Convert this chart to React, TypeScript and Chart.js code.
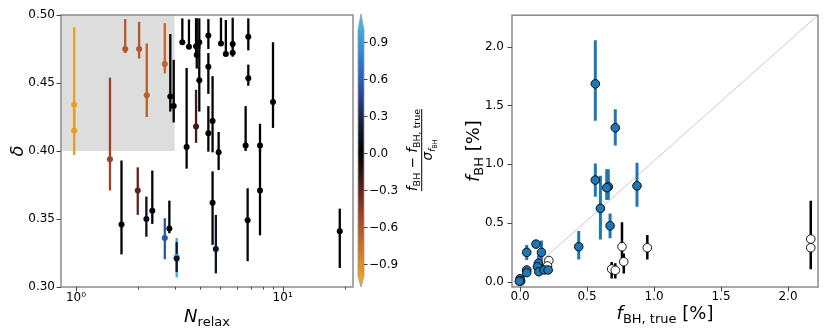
import React, { useEffect, useRef } from "react";
import { Chart, registerables } from "chart.js";
Chart.register(...registerables);

// ---------------- Left panel data ----------------
const relaxN = [0.98, 0.98, 1.46, 1.73, 2.02, 2.2, 2.69, 2.86, 2.97, 3.27, 3.52, 3.43, 3.81, 3.84, 3.81, 3.95, 3.95, 4.37, 4.37, 4.37, 4.58, 4.58, 4.75, 4.9, 5.03, 5.31, 5.73, 5.73, 6.62, 6.77, 6.82, 6.82, 7.77, 7.77, 8.98, 18.9, 1.66, 1.99, 2.19, 2.34, 2.69, 2.83, 3.07, 3.07];
const relaxDelta = [0.434, 0.415, 0.394, 0.475, 0.475, 0.441, 0.464, 0.44, 0.433, 0.48, 0.4767, 0.403, 0.477, 0.4706, 0.418, 0.48, 0.452, 0.485, 0.462, 0.413, 0.422, 0.362, 0.328, 0.399, 0.479, 0.4713, 0.4787, 0.4723, 0.404, 0.349, 0.484, 0.4535, 0.404, 0.371, 0.436, 0.341, 0.346, 0.371, 0.35, 0.356, 0.336, 0.343, 0.322, 0.321];
const relaxErrUp = [0.057, 0.02, 0.06, 0.022, 0.02, 0.038, 0.03, 0.046, 0.034, 0.0175, 0.02, 0.058, 0.0205, 0.027, 0.027, 0.0175, 0.027, 0.012, 0.01, 0.02, 0.033, 0.023, 0.025, 0.015, 0.019, 0.025, 0.0193, 0.006, 0.029, 0.0236, 0.0135, 0.01, 0.016, 0.03, 0.044, 0.0166, 0.047, 0.017, 0.0165, 0.0296, 0.0146, 0.0205, 0.014, 0.012];
const relaxErrDown = [0.02, 0.018, 0.023, 0.003, 0.007, 0.016, 0.007, 0.011, 0.012, 0.0, 0.0, 0.016, 0.005, 0.01, 0.012, 0.005, 0.023, 0.01, 0.02, 0.0135, 0.023, 0.031, 0.018, 0.013, 0.0, 0.0, 0.003, 0.003, 0.004, 0.03, 0.01, 0.0055, 0.005, 0.033, 0.019, 0.027, 0.022, 0.018, 0.013, 0.0096, 0.0156, 0.0035, 0.015, 0.01];
const relaxColorValue = [-1.0, -0.98, -0.5, -0.62, -0.62, -0.66, -0.7, 0, 0, 0, 0, 0, 0, 0.02, -0.22, 0, 0, 0, 0, 0, 0, 0, 0.15, 0, 0, 0, 0, 0, 0, 0.05, 0, 0, 0, 0, 0, 0, 0, -0.3, 0.1, 0.03, 0.55, 0, 1.0, 0.15];

const leftXMin = 0.846;
const leftXMax = 21.9;
const leftYMin = 0.3;
const leftYMax = 0.5;
const leftYTicks = [0.3, 0.35, 0.4, 0.45, 0.5];
const leftXTicks = [1, 2, 3, 4, 5, 6, 7, 8, 9, 10, 20];
const leftXMajor = [1, 10];
const leftXMajorLabels = ["10\u2070", "10\u00b9"];
const shadeXMax = 3.0;
const shadeYMin = 0.4;

const cbarTicks = [-0.9, -0.6, -0.3, 0, 0.3, 0.6, 0.9];
const cbarTickLabels = ["\u22120.9", "\u22120.6", "\u22120.3", "0.0", "0.3", "0.6", "0.9"];

// ---------------- Right panel data ----------------
const fTrue = [0.562, 0.711, 0.562, 0.659, 0.647, 0.873, 0.6, 0.672, 0.438, 0.05, 0.119, 0.16, 0.137, 0.13, 0.14, 0.05, 0.05, 0.18, 0.21, 0.0, 0.005, -0.005, 0.215, 0.205, 0.684, 0.711, 0.761, 0.774, 0.95, 2.17, 2.17];
const fBH = [1.684, 1.31, 0.865, 0.808, 0.8, 0.816, 0.624, 0.476, 0.298, 0.25, 0.32, 0.25, 0.156, 0.128, 0.085, 0.1, 0.077, 0.1, 0.1, 0.025, 0.006, 0.004, 0.18, 0.134, 0.108, 0.097, 0.298, 0.17, 0.289, 0.363, 0.289];
const fErrUp = [0.371, 0.158, 0.142, 0.15, 0.156, 0.196, 0.277, 0.105, 0.133, 0.062, 0.028, 0.1, 0.07, 0.05, 0.04, 0.03, 0.025, 0.03, 0.02, 0.01, 0.006, 0.005, 0.03, 0.03, 0.06, 0.06, 0.207, 0.07, 0.108, 0.326, 0.1];
const fErrDown = [0.315, 0.15, 0.142, 0.11, 0.105, 0.178, 0.264, 0.107, 0.108, 0.065, 0.028, 0.14, 0.05, 0.04, 0.03, 0.025, 0.02, 0.02, 0.02, 0.01, 0.006, 0.004, 0.03, 0.03, 0.08, 0.07, 0.1, 0.1, 0.1, 0.1, 0.184];
const fRecovered = [true, true, true, true, true, true, true, true, true, true, true, true, true, true, true, true, true, true, true, true, true, true, false, false, false, false, false, false, false, false, false];

const rightXMin = -0.06;
const rightXMax = 2.224;
const rightYMin = -0.045;
const rightYMax = 2.268;
const rightTicks = [0, 0.5, 1, 1.5, 2];

// ---------------- helpers ----------------
const FAM = "'DejaVu Sans', sans-serif";
const SPINE = "#8a8a8a";
const TICKC = "#444";
const BLUE = "#1f77b4";

const cmapStops: [number, string][] = [
  [-1, "#E8A21E"],
  [-0.75, "#CC6E28"],
  [-0.5, "#9E4226"],
  [-0.25, "#4C1E16"],
  [0, "#000000"],
  [0.25, "#17203F"],
  [0.5, "#2A4BA0"],
  [0.75, "#2F7BD0"],
  [1, "#3AAEE2"],
];

function hex2rgb(h: string) {
  return [parseInt(h.slice(1, 3), 16), parseInt(h.slice(3, 5), 16), parseInt(h.slice(5, 7), 16)];
}
function cmap(v: number): string {
  const vv = Math.max(-1, Math.min(1, v));
  for (let i = 0; i < cmapStops.length - 1; i++) {
    const [a, ca] = cmapStops[i];
    const [b, cb] = cmapStops[i + 1];
    if (vv >= a && vv <= b) {
      const t = (vv - a) / (b - a);
      const A = hex2rgb(ca), B = hex2rgb(cb);
      const c = A.map((x, k) => Math.round(x + (B[k] - x) * t));
      return `rgb(${c[0]},${c[1]},${c[2]})`;
    }
  }
  return cmapStops[cmapStops.length - 1][1];
}

type Seg = { t: string; size: number; italic?: boolean; dy?: number };
function segFont(s: Seg) {
  return `${s.italic ? "italic " : ""}${s.size}px ${FAM}`;
}
function drawRich(ctx: CanvasRenderingContext2D, segs: Seg[], x: number, y: number, rot = 0) {
  ctx.save();
  ctx.translate(x, y);
  ctx.rotate(rot);
  let w = 0;
  const ws = segs.map((s) => {
    ctx.font = segFont(s);
    const m = ctx.measureText(s.t).width;
    w += m;
    return m;
  });
  let cx = -w / 2;
  ctx.textBaseline = "alphabetic";
  ctx.textAlign = "left";
  ctx.fillStyle = "#000";
  segs.forEach((s, i) => {
    ctx.font = segFont(s);
    ctx.fillText(s.t, cx, s.dy || 0);
    cx += ws[i];
  });
  ctx.restore();
  return w;
}

function drawSpines(ctx: CanvasRenderingContext2D, a: any) {
  ctx.save();
  ctx.strokeStyle = SPINE;
  ctx.lineWidth = 1.5;
  ctx.strokeRect(a.left, a.top, a.right - a.left, a.bottom - a.top);
  ctx.restore();
}

function drawXTicks(ctx: CanvasRenderingContext2D, scale: any, vals: number[], majors: number[], yb: number) {
  ctx.save();
  ctx.strokeStyle = TICKC;
  ctx.lineWidth = 1;
  vals.forEach((v) => {
    const px = Math.round(scale.getPixelForValue(v)) + 0.5;
    const len = majors.includes(v) ? 4.5 : 2.5;
    ctx.beginPath();
    ctx.moveTo(px, yb);
    ctx.lineTo(px, yb + len);
    ctx.stroke();
  });
  ctx.restore();
}
function drawYTicks(ctx: CanvasRenderingContext2D, scale: any, vals: number[], xl: number) {
  ctx.save();
  ctx.strokeStyle = TICKC;
  ctx.lineWidth = 1;
  vals.forEach((v) => {
    const py = Math.round(scale.getPixelForValue(v)) + 0.5;
    ctx.beginPath();
    ctx.moveTo(xl, py);
    ctx.lineTo(xl - 4.5, py);
    ctx.stroke();
  });
  ctx.restore();
}

// ---------------- plugins ----------------
const leftPlugin = {
  id: "leftDecor",
  beforeDatasetsDraw(chart: any) {
    const { ctx, chartArea: a, scales } = chart;
    const x = scales.x, y = scales.y;
    ctx.save();
    const xs = x.getPixelForValue(shadeXMax);
    const ys = y.getPixelForValue(shadeYMin);
    ctx.fillStyle = "#DDDDDD";
    ctx.fillRect(a.left, a.top, xs - a.left, ys - a.top);
    ctx.beginPath();
    ctx.rect(a.left, a.top, a.right - a.left, a.bottom - a.top);
    ctx.clip();
    ctx.lineWidth = 2.3;
    relaxN.forEach((n, i) => {
      const px = x.getPixelForValue(n);
      ctx.strokeStyle = cmap(relaxColorValue[i]);
      ctx.beginPath();
      ctx.moveTo(px, y.getPixelForValue(relaxDelta[i] + relaxErrUp[i]));
      ctx.lineTo(px, y.getPixelForValue(relaxDelta[i] - relaxErrDown[i]));
      ctx.stroke();
    });
    ctx.restore();
  },
  afterDraw(chart: any) {
    const { ctx, chartArea: a, scales } = chart;
    drawSpines(ctx, a);
    drawXTicks(ctx, scales.x, leftXTicks, leftXMajor, a.bottom);
    drawYTicks(ctx, scales.y, leftYTicks, a.left);

    // axis titles
    drawRich(ctx, [{ t: "N", size: 18, italic: true }, { t: "relax", size: 13, dy: 4 }], (a.left + a.right) / 2, 322);
    drawRich(ctx, [{ t: "\u03b4", size: 18, italic: true }], 23, (a.top + a.bottom) / 2, -Math.PI / 2);

    // colorbar
    const x0 = 358, x1 = 364;
    const bTop = 29.7, bBot = 276.3, tipTop = 14, tipBot = 287;
    const vToY = (v: number) => bBot - ((v + 1) / 2) * (bBot - bTop);
    ctx.save();
    const g = ctx.createLinearGradient(0, bBot, 0, bTop);
    cmapStops.forEach(([v, c]) => g.addColorStop((v + 1) / 2, c));
    ctx.fillStyle = g;
    ctx.fillRect(x0, bTop, x1 - x0, bBot - bTop);
    ctx.fillStyle = "#3CB4E6";
    ctx.beginPath();
    ctx.moveTo(x0, bTop + 0.5);
    ctx.lineTo((x0 + x1) / 2, tipTop);
    ctx.lineTo(x1, bTop + 0.5);
    ctx.closePath();
    ctx.fill();
    ctx.fillStyle = "#E9A61E";
    ctx.beginPath();
    ctx.moveTo(x0, bBot - 0.5);
    ctx.lineTo((x0 + x1) / 2, tipBot);
    ctx.lineTo(x1, bBot - 0.5);
    ctx.closePath();
    ctx.fill();
    ctx.strokeStyle = "#999";
    ctx.lineWidth = 0.8;
    ctx.beginPath();
    ctx.moveTo(x0, bTop);
    ctx.lineTo((x0 + x1) / 2, tipTop);
    ctx.lineTo(x1, bTop);
    ctx.lineTo(x1, bBot);
    ctx.lineTo((x0 + x1) / 2, tipBot);
    ctx.lineTo(x0, bBot);
    ctx.closePath();
    ctx.stroke();
    // ticks
    ctx.strokeStyle = TICKC;
    ctx.lineWidth = 1;
    ctx.fillStyle = "#000";
    ctx.font = `12px ${FAM}`;
    ctx.textAlign = "left";
    ctx.textBaseline = "middle";
    cbarTicks.forEach((v, i) => {
      const py = Math.round(vToY(v)) + 0.5;
      ctx.beginPath();
      ctx.moveTo(x1, py);
      ctx.lineTo(x1 + 3.5, py);
      ctx.stroke();
      ctx.fillText(cbarTickLabels[i], x1 + 5, py);
    });
    ctx.restore();

    // colorbar label (fraction), rotated
    ctx.save();
    ctx.translate(421.7, 150);
    ctx.rotate(-Math.PI / 2);
    const wNum = drawRich(
      ctx,
      [
        { t: "f", size: 13.5, italic: true },
        { t: "BH", size: 9.5, dy: 3 },
        { t: " \u2212 ", size: 13.5 },
        { t: "f", size: 13.5, italic: true },
        { t: "BH, true", size: 9.5, dy: 3 },
      ],
      0,
      -5
    );
    ctx.fillStyle = "#000";
    ctx.fillRect(-wNum / 2, -0.5, wNum, 1);
    drawRich(
      ctx,
      [
        { t: "\u03c3", size: 13.5, italic: true },
        { t: "f", size: 9.5, italic: true, dy: 2.5 },
        { t: "BH", size: 6.5, dy: 4.5 },
      ],
      0,
      10.5
    );
    ctx.restore();
  },
};

const rightPlugin = {
  id: "rightDecor",
  beforeDatasetsDraw(chart: any) {
    const { ctx, chartArea: a, scales } = chart;
    const x = scales.x, y = scales.y;
    ctx.save();
    ctx.strokeStyle = "#C4C4C4";
    ctx.lineWidth = 0.9;
    ctx.beginPath();
    ctx.moveTo(a.left, a.bottom);
    ctx.lineTo(a.right, a.top);
    ctx.stroke();
    ctx.beginPath();
    ctx.rect(a.left, a.top, a.right - a.left, a.bottom - a.top);
    ctx.clip();
    fTrue.forEach((ft, i) => {
      const px = x.getPixelForValue(ft);
      ctx.strokeStyle = fRecovered[i] ? BLUE : "#000";
      ctx.lineWidth = fRecovered[i] ? 3 : 2.5;
      ctx.beginPath();
      ctx.moveTo(px, y.getPixelForValue(fBH[i] + fErrUp[i]));
      ctx.lineTo(px, y.getPixelForValue(fBH[i] - fErrDown[i]));
      ctx.stroke();
    });
    ctx.restore();
  },
  afterDraw(chart: any) {
    const { ctx, chartArea: a, scales } = chart;
    drawSpines(ctx, a);
    drawXTicks(ctx, scales.x, rightTicks, rightTicks, a.bottom);
    drawYTicks(ctx, scales.y, rightTicks, a.left);
    drawRich(
      ctx,
      [
        { t: "f", size: 18, italic: true },
        { t: "BH, true", size: 13, dy: 4 },
        { t: " [%]", size: 18 },
      ],
      (a.left + a.right) / 2,
      319
    );
    drawRich(
      ctx,
      [
        { t: "f", size: 18, italic: true },
        { t: "BH", size: 13, dy: 4 },
        { t: " [%]", size: 18 },
      ],
      39,
      (a.top + a.bottom) / 2,
      -Math.PI / 2
    );
  },
};

const tickFont = { family: FAM, size: 12 };

function leftConfig(): any {
  return {
    type: "scatter",
    data: {
      datasets: [
        {
          data: relaxN.map((n, i) => ({ x: n, y: relaxDelta[i] })),
          pointBackgroundColor: relaxColorValue.map(cmap),
          pointBorderColor: relaxColorValue.map(cmap),
          pointBorderWidth: 0,
          pointRadius: 3,
        },
      ],
    },
    options: {
      animation: false,
      responsive: false,
      devicePixelRatio: 1,
      layout: { padding: { top: 15, right: 87, left: 0, bottom: 0 } },
      plugins: { legend: { display: false }, tooltip: { enabled: false } },
      scales: {
        x: {
          type: "logarithmic",
          min: leftXMin,
          max: leftXMax,
          bounds: "data",
          grid: { display: false, drawTicks: false },
          border: { display: false },
          ticks: {
            autoSkip: false,
            maxRotation: 0,
            padding: 4,
            color: "#000",
            font: tickFont,
            callback: (v: number) => {
              const k = leftXMajor.indexOf(v);
              return k >= 0 ? leftXMajorLabels[k] : "";
            },
          },
          afterBuildTicks: (s: any) => {
            s.ticks = leftXTicks.map((v) => ({ value: v }));
          },
          afterFit: (s: any) => {
            s.height = 42;
          },
        },
        y: {
          type: "linear",
          min: leftYMin,
          max: leftYMax,
          grid: { display: false, drawTicks: false },
          border: { display: false },
          ticks: { padding: 6, color: "#000", font: tickFont, callback: (v: number) => v.toFixed(2) },
          afterBuildTicks: (s: any) => {
            s.ticks = leftYTicks.map((v) => ({ value: v }));
          },
          afterFit: (s: any) => {
            s.width = 61;
          },
        },
      },
    },
    plugins: [leftPlugin],
  };
}

function rightConfig(): any {
  const idxF = fTrue.map((_, i) => i).filter((i) => fRecovered[i]);
  const idxO = fTrue.map((_, i) => i).filter((i) => !fRecovered[i]);
  return {
    type: "scatter",
    data: {
      datasets: [
        {
          data: idxF.map((i) => ({ x: fTrue[i], y: fBH[i] })),
          pointBackgroundColor: BLUE,
          pointBorderColor: "#000",
          pointBorderWidth: 0.9,
          pointRadius: 4.3,
        },
        {
          data: idxO.map((i) => ({ x: fTrue[i], y: fBH[i] })),
          pointBackgroundColor: "#fff",
          pointBorderColor: "#000",
          pointBorderWidth: 0.9,
          pointRadius: 4.3,
        },
      ],
    },
    options: {
      animation: false,
      responsive: false,
      devicePixelRatio: 1,
      layout: { padding: { top: 15, right: 12, left: 0, bottom: 0 } },
      plugins: { legend: { display: false }, tooltip: { enabled: false } },
      scales: {
        x: {
          type: "linear",
          min: rightXMin,
          max: rightXMax,
          bounds: "data",
          grid: { display: false, drawTicks: false },
          border: { display: false },
          ticks: { autoSkip: false, maxRotation: 0, padding: 3, color: "#000", font: tickFont, callback: (v: number) => v.toFixed(1) },
          afterBuildTicks: (s: any) => {
            s.ticks = rightTicks.map((v) => ({ value: v }));
          },
          afterFit: (s: any) => {
            s.height = 42;
          },
        },
        y: {
          type: "linear",
          min: rightYMin,
          max: rightYMax,
          bounds: "data",
          grid: { display: false, drawTicks: false },
          border: { display: false },
          ticks: { padding: 8, color: "#000", font: tickFont, callback: (v: number) => v.toFixed(1) },
          afterBuildTicks: (s: any) => {
            s.ticks = rightTicks.map((v) => ({ value: v }));
          },
          afterFit: (s: any) => {
            s.width = 72;
          },
        },
      },
    },
    plugins: [rightPlugin],
  };
}

export default function App() {
  const leftRef = useRef<HTMLCanvasElement>(null);
  const rightRef = useRef<HTMLCanvasElement>(null);
  useEffect(() => {
    const c1 = new Chart(leftRef.current as HTMLCanvasElement, leftConfig());
    const c2 = new Chart(rightRef.current as HTMLCanvasElement, rightConfig());
    return () => {
      c1.destroy();
      c2.destroy();
    };
  }, []);
  return (
    <div style={{ position: "absolute", left: 0, top: 0, width: 830, height: 329, background: "#fff", overflow: "hidden" }}>
      <canvas ref={leftRef} width={440} height={329} style={{ position: "absolute", left: 0, top: 0, width: 440, height: 329 }} />
      <canvas ref={rightRef} width={390} height={329} style={{ position: "absolute", left: 440, top: 0, width: 390, height: 329 }} />
    </div>
  );
}
